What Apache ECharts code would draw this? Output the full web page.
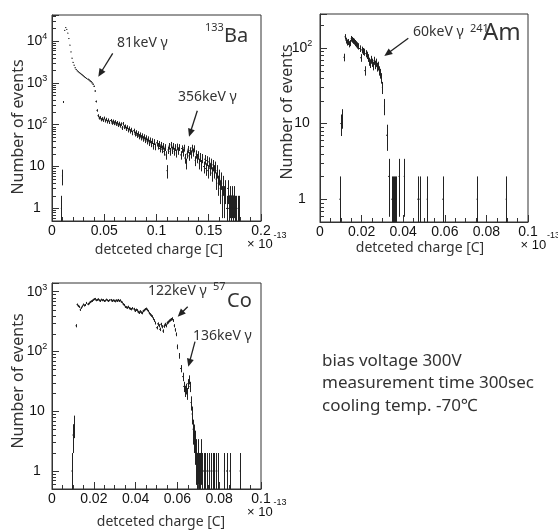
<!DOCTYPE html>
<html><head><meta charset="utf-8">
<script src="https://cdn.jsdelivr.net/npm/echarts@6/dist/echarts.min.js"></script>
<style>html,body{margin:0;padding:0;background:#fff}#c{width:558px;height:531px}</style>
</head><body><div id="c"></div>
<script>
// ---------- DATA (bin centres in units of 1e-13 C, counts per bin) ----------
const baStart = 0.009, baWidth = 0.001;
const baCounts = [
 1,6,350,18000,21000,19000,15500,11500,8000,5500,
 3900,3100,2650,2300,2100,1950,1850,1760,1690,1610,
 1540,1470,1400,1340,1280,1230,1180,1120,1070,1000,
 930,830,640,360,220,165,145,150,132,140,
 128,145,124,135,118,130,115,126,110,122,
 108,118,104,112,98,108,95,104,84,106,
 88,92,80,88,74,82,70,76,64,72,
 60,66,56,62,52,58,49,55,46,52,
 43,49,40,46,37,43,35,41,31,39,
 30,37,31,35,27,33,26,31,23,29,
 19,8,25,31,23,33,25,31,23,29,
 21,30,24,29,19,27,22,28,16,12,
 20,26,18,24,20,28,22,27,14,20,
 16,19,12,17,11,16,10,15,9,14,
 8,13,9,12,7,11,8,10,5,8,
 4,6,3,5,2,4,2,3,1,3,
 1,2,1,2,1,2,1,1,0,1,1
];
const amStart = 0.0095, amWidth = 0.0005;
const amCounts = [
 1,10,12,0,75,140,125,118,120,112,
 116,132,128,124,121,116,112,108,105,98,
 74,94,90,88,50,84,80,74,66,62,
 70,64,58,68,60,64,56,58,50,46,
 40,30,0,17,0,7,0,2,0,0,
 1,1,1,1,1
];
const amTailCharge = [0.0380,0.0405,0.0470,0.0480,0.0515,0.0590,0.0755,0.0895];
const amTailCounts = [2,2,1,1,1,1,1,1];
const coStart = 0.0095, coWidth = 0.0005;
const coCounts = [
 1,4,6,0,270,610,580,560,500,540,
 570,610,590,600,650,620,640,670,690,700,
 730,750,760,720,730,750,720,700,740,720,
 730,700,710,740,720,700,720,730,700,720,
 710,690,720,700,730,700,720,680,660,620,
 600,560,550,540,560,530,520,510,530,515,
 480,500,490,460,445,470,450,440,475,490,
 510,520,500,475,440,418,400,385,355,330,
 300,250,290,270,235,285,260,220,265,285,
 270,300,310,325,335,345,355,330,270,230,
 194,120,0,85,52,0,38,26,22,24,
 20,29,34,26,14,9,5,4,3,2,
 1,2,1,1,2,1,1,1
];
const coTailCharge = [0.0740,0.0750,0.0760,0.0770,0.0775,0.0785,0.0795,0.0825,0.0835,0.0850,0.0900];
const coTailCounts = [1,1,1,1,1,1,1,1,1,1,1];

const xTickInterval = [0.05, 0.02, 0.02];
const xMax = [0.2, 0.1, 0.1];
const yMin = 0.5;
const yMax = [42000, 280, 1400];
const decadeLabels = {1:'1', 10:'10', 100:'{b|10}{s|2}', 1000:'{b|10}{s|3}', 10000:'{b|10}{s|4}'};

// ---------- build tables ----------
function binTable(start, width, counts, tailX, tailN) {
  const rows = counts.map((n, i) => [+(start + i * width).toFixed(6), n, width]);
  if (tailX) tailX.forEach((x, i) => rows.push([x, tailN[i], width]));
  return rows;
}
const tables = [
  binTable(baStart, baWidth, baCounts),
  binTable(amStart, amWidth, amCounts, amTailCharge, amTailCounts),
  binTable(coStart, coWidth, coCounts, coTailCharge, coTailCounts)
];

const grids = [
  {left: 52, top: 15, width: 209, height: 206},
  {left: 320, top: 14, width: 208, height: 208},
  {left: 52, top: 283, width: 209, height: 206}
];

const INK = '#222';
function errRender(gi) {
  return function (params, api) {
    const x = api.value(0), n = api.value(1), w = api.value(2);
    if (!(n > 0)) return null;
    const e = Math.sqrt(n);
    const lo = Math.max(n - e, yMin), hi = Math.min(n + e, yMax[gi]);
    const pLo = api.coord([x, lo]), pHi = api.coord([x, hi]), pC = api.coord([x, n]);
    const pL = api.coord([x - w / 2, n]), pR = api.coord([x + w / 2, n]);
    const px = Math.round(pC[0]) + 0.5;
    return {type: 'group', children: [
      {type: 'line', shape: {x1: px, y1: pLo[1], x2: px, y2: pHi[1]}, style: {stroke: INK, lineWidth: 1}},
      {type: 'line', shape: {x1: pL[0], y1: pC[1], x2: Math.max(pR[0], pL[0] + 1), y2: pC[1]}, style: {stroke: INK, lineWidth: 1}}
    ]};
  };
}
function minorTickValues(max) {
  const v = [];
  for (let d = -1; d <= 5; d++) for (let k = 2; k <= 9; k++) {
    const t = k * Math.pow(10, d);
    if (t > yMin && t < max) v.push([0, t]);
  }
  return v;
}
function minorRender(params, api) {
  const p = api.coord([api.value(0), api.value(1)]);
  const y = Math.round(p[1]) + 0.5;
  return {type: 'line', shape: {x1: p[0], y1: y, x2: p[0] + 4, y2: y}, style: {stroke: '#333', lineWidth: 1}};
}

const lab = {fontFamily: 'Liberation Sans, Arial', fontSize: 14, color: '#111'};
const xAxis = [], yAxis = [], series = [];
for (let i = 0; i < 3; i++) {
  xAxis.push({type: 'value', gridIndex: i, min: 0, max: xMax[i], interval: xTickInterval[i],
    axisLine: {show: true, onZero: false, lineStyle: {color: '#333', width: 1}},
    axisTick: {show: true, inside: true, length: 7, lineStyle: {color: '#333'}},
    minorTick: {show: true, splitNumber: i === 0 ? 5 : 4, length: 4, lineStyle: {color: '#333'}},
    splitLine: {show: false}, minorSplitLine: {show: false},
    axisLabel: Object.assign({margin: 3, showMinLabel: true, showMaxLabel: true}, lab)});
  yAxis.push({type: 'log', logBase: 10, gridIndex: i, min: yMin, max: yMax[i],
    axisLine: {show: true, onZero: false, lineStyle: {color: '#333', width: 1}},
    axisTick: {show: true, inside: true, length: 7, lineStyle: {color: '#333'}},
    splitLine: {show: false},
    axisLabel: Object.assign({margin: i === 1 ? 18 : 15, align: 'center',
      formatter: function (v) { const r = Math.round(v); return (Math.abs(v - r) < 1e-6 && decadeLabels[r]) || ''; },
      rich: {b: {fontFamily: 'Liberation Sans, Arial', fontSize: 14, color: '#111'},
             s: {fontFamily: 'Liberation Sans, Arial', fontSize: 9, color: '#111', padding: [0, 0, 9, 0]}}}, lab)});
  series.push({type: 'custom', xAxisIndex: i, yAxisIndex: i, renderItem: errRender(i), data: tables[i], silent: true, z: 3});
  series.push({type: 'custom', xAxisIndex: i, yAxisIndex: i, renderItem: minorRender, data: minorTickValues(yMax[i]), silent: true, z: 4});
}

// ---------- annotations ----------
const TXT = '#333', FONT = '"Noto Sans", "Open Sans", sans-serif';
function txt(x, y, s, size, extra) {
  return Object.assign({type: 'text', x: x, y: y, silent: true, z: 10,
    style: {text: s, font: size + 'px ' + FONT, fill: TXT, align: 'left', verticalAlign: 'middle', textAlign: 'left', textVerticalAlign: 'middle'}}, extra || {});
}
function ctxt(x, y, s, size, rot) {
  return {type: 'text', x: x, y: y, rotation: rot || 0, silent: true, z: 10,
    style: {text: s, font: size + 'px ' + FONT, fill: TXT, align: 'center', verticalAlign: 'middle', textAlign: 'center', textVerticalAlign: 'middle'}};
}
function rtxt(x, y, s, size) {
  return {type: 'text', x: x, y: y, silent: true, z: 10,
    style: {text: s, font: size + 'px "Liberation Sans", Arial', fill: '#111', align: 'left', verticalAlign: 'middle', textAlign: 'left', textVerticalAlign: 'middle'}};
}
function arrow(x1, y1, x2, y2) {
  const dx = x2 - x1, dy = y2 - y1, L = Math.hypot(dx, dy), ux = dx / L, uy = dy / L;
  const hl = 8, hw = 3.5;
  const bx = x2 - ux * hl, by = y2 - uy * hl;
  return [
    {type: 'line', silent: true, z: 10, shape: {x1: x1, y1: y1, x2: bx + ux, y2: by + uy}, style: {stroke: '#222', lineWidth: 1.3}},
    {type: 'polygon', silent: true, z: 10, shape: {points: [[x2, y2], [bx - uy * hw, by + ux * hw], [bx + uy * hw, by - ux * hw]]}, style: {fill: '#222'}}
  ];
}
const graphic = [
  ctxt(18.5, 127, 'Number of events', 16, Math.PI / 2),
  ctxt(287, 112, 'Number of events', 16, Math.PI / 2),
  ctxt(18.5, 381, 'Number of events', 16, Math.PI / 2),
  ctxt(159, 250, 'detceted charge [C]', 14),
  ctxt(420, 248, 'detceted charge [C]', 14),
  ctxt(161, 522, 'detceted charge [C]', 14),
  rtxt(247, 244.5, '× 10', 13), rtxt(273.5, 236, '-13', 9),
  rtxt(520.5, 245, '× 10', 13), rtxt(547, 236, '-13', 9),
  rtxt(247, 512, '× 10', 13), rtxt(273.5, 503, '-13', 9),
  txt(117, 43.5, '81keV γ', 14),
  txt(178, 97, '356keV γ', 14),
  txt(205, 27.5, '133', 11), txt(224, 36, 'Ba', 20),
  txt(413, 32.5, '60keV γ', 14),
  txt(470, 28.5, '241', 11), txt(483, 33, 'Am', 24),
  txt(148, 291.5, '122keV γ', 14),
  txt(213, 286.5, '57', 11), txt(227, 301.5, 'Co', 20),
  txt(193, 336, '136keV γ', 14),
  txt(322, 361, 'bias voltage 300V', 17),
  txt(322, 383.5, 'measurement time 300sec', 17),
  txt(322, 406, 'cooling temp. -70℃', 17)
].concat(arrow(112.7, 53.3, 98.3, 76.7), arrow(197.3, 110.7, 189, 136.7),
         arrow(408.3, 38.3, 384.3, 56), arrow(187.7, 306.7, 177.7, 316.7),
         arrow(195, 341.7, 188.3, 366.7));

const chart = echarts.init(document.getElementById('c'), null, {renderer: 'canvas'});
chart.setOption({
  animation: false,
  backgroundColor: '#fff',
  grid: grids.map(g => Object.assign({show: true, borderColor: '#333', borderWidth: 1, backgroundColor: 'transparent', containLabel: false}, g)),
  xAxis: xAxis, yAxis: yAxis, series: series, graphic: graphic
});
</script></body></html>
